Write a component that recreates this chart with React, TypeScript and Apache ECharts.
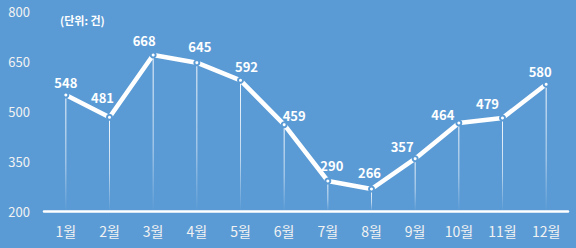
import React, { useEffect, useRef } from "react";
import * as echarts from "echarts";

const categories = ["1월", "2월", "3월", "4월", "5월", "6월", "7월", "8월", "9월", "10월", "11월", "12월"];
const values = [548, 481, 668, 645, 592, 459, 290, 266, 357, 464, 479, 580];
const yMin = 200;
const yMax = 800;
const yInterval = 150;
const unitText = "(단위: 건)";

const BG = "#5B9BD5";
const FONT = "'Noto Sans CJK KR', 'Noto Sans', sans-serif";

// label centre offsets from each point (layout, not data)
const labelOffsets: [number, number][] = [
  [0, -13], [-7, -20], [-9, -15], [3, -16], [6, -14], [10, -9],
  [4, -16], [-2, -17], [-13, -12], [-16, -9], [-15, -15], [-6, -13],
];

export default function App() {
  const ref = useRef<HTMLDivElement>(null);
  useEffect(() => {
    if (!ref.current) return;
    const chart = echarts.init(ref.current, undefined, { renderer: "svg" });
    chart.setOption({
      animation: false,
      backgroundColor: BG,
      textStyle: { fontFamily: FONT },
      title: {
        text: unitText,
        left: 60,
        top: 14,
        padding: 0,
        textStyle: { color: "#ffffff", fontSize: 11, fontWeight: "bold", fontFamily: FONT },
      },
      grid: { left: 44, right: 8, top: 11, bottom: 37 },
      xAxis: {
        type: "category",
        data: categories,
        boundaryGap: true,
        axisLine: { lineStyle: { color: "#ffffff", width: 2.5 } },
        axisTick: { show: false },
        axisLabel: { color: "#f2f2f2", fontSize: 14, margin: 13, fontFamily: FONT },
      },
      yAxis: {
        type: "value",
        min: yMin,
        max: yMax,
        interval: yInterval,
        axisLine: { show: false },
        axisTick: { show: false },
        splitLine: { show: false },
        axisLabel: { color: "#f2f2f2", fontSize: 13, margin: 14, fontFamily: FONT },
      },
      series: [
        {
          type: "custom",
          data: values.map((v, i) => [i, v]),
          z: 1,
          silent: true,
          renderItem: (params: any, api: any) => {
            const i = api.value(0);
            const v = api.value(1);
            const top = api.coord([i, v]);
            const bottom = api.coord([i, yMin]);
            return {
              type: "rect",
              shape: { x: top[0] - 0.5, y: top[1], width: 1, height: bottom[1] - top[1] },
              style: {
                fill: new echarts.graphic.LinearGradient(0, 0, 0, 1, [
                  { offset: 0, color: "rgba(255,255,255,0.95)" },
                  { offset: 0.6, color: "rgba(255,255,255,0.6)" },
                  { offset: 1, color: "rgba(255,255,255,0)" },
                ]),
              },
            };
          },
        },
        {
          type: "line",
          data: values.map((v, i) => ({
            value: v,
            label: { offset: labelOffsets[i] },
          })),
          z: 3,
          symbol: "circle",
          symbolSize: 5,
          showAllSymbol: true,
          lineStyle: { color: "#ffffff", width: 4.5 },
          itemStyle: { color: "#ffffff", borderColor: BG, borderWidth: 2 },
          label: {
            show: true,
            position: "inside",
            color: "#ffffff",
            fontSize: 13,
            fontWeight: "bold",
            fontFamily: FONT,
          },
        },
      ],
    });
    return () => chart.dispose();
  }, []);
  return (
    <div
      ref={ref}
      style={{ position: "absolute", left: 0, top: 0, width: 576, height: 248 }}
    />
  );
}
